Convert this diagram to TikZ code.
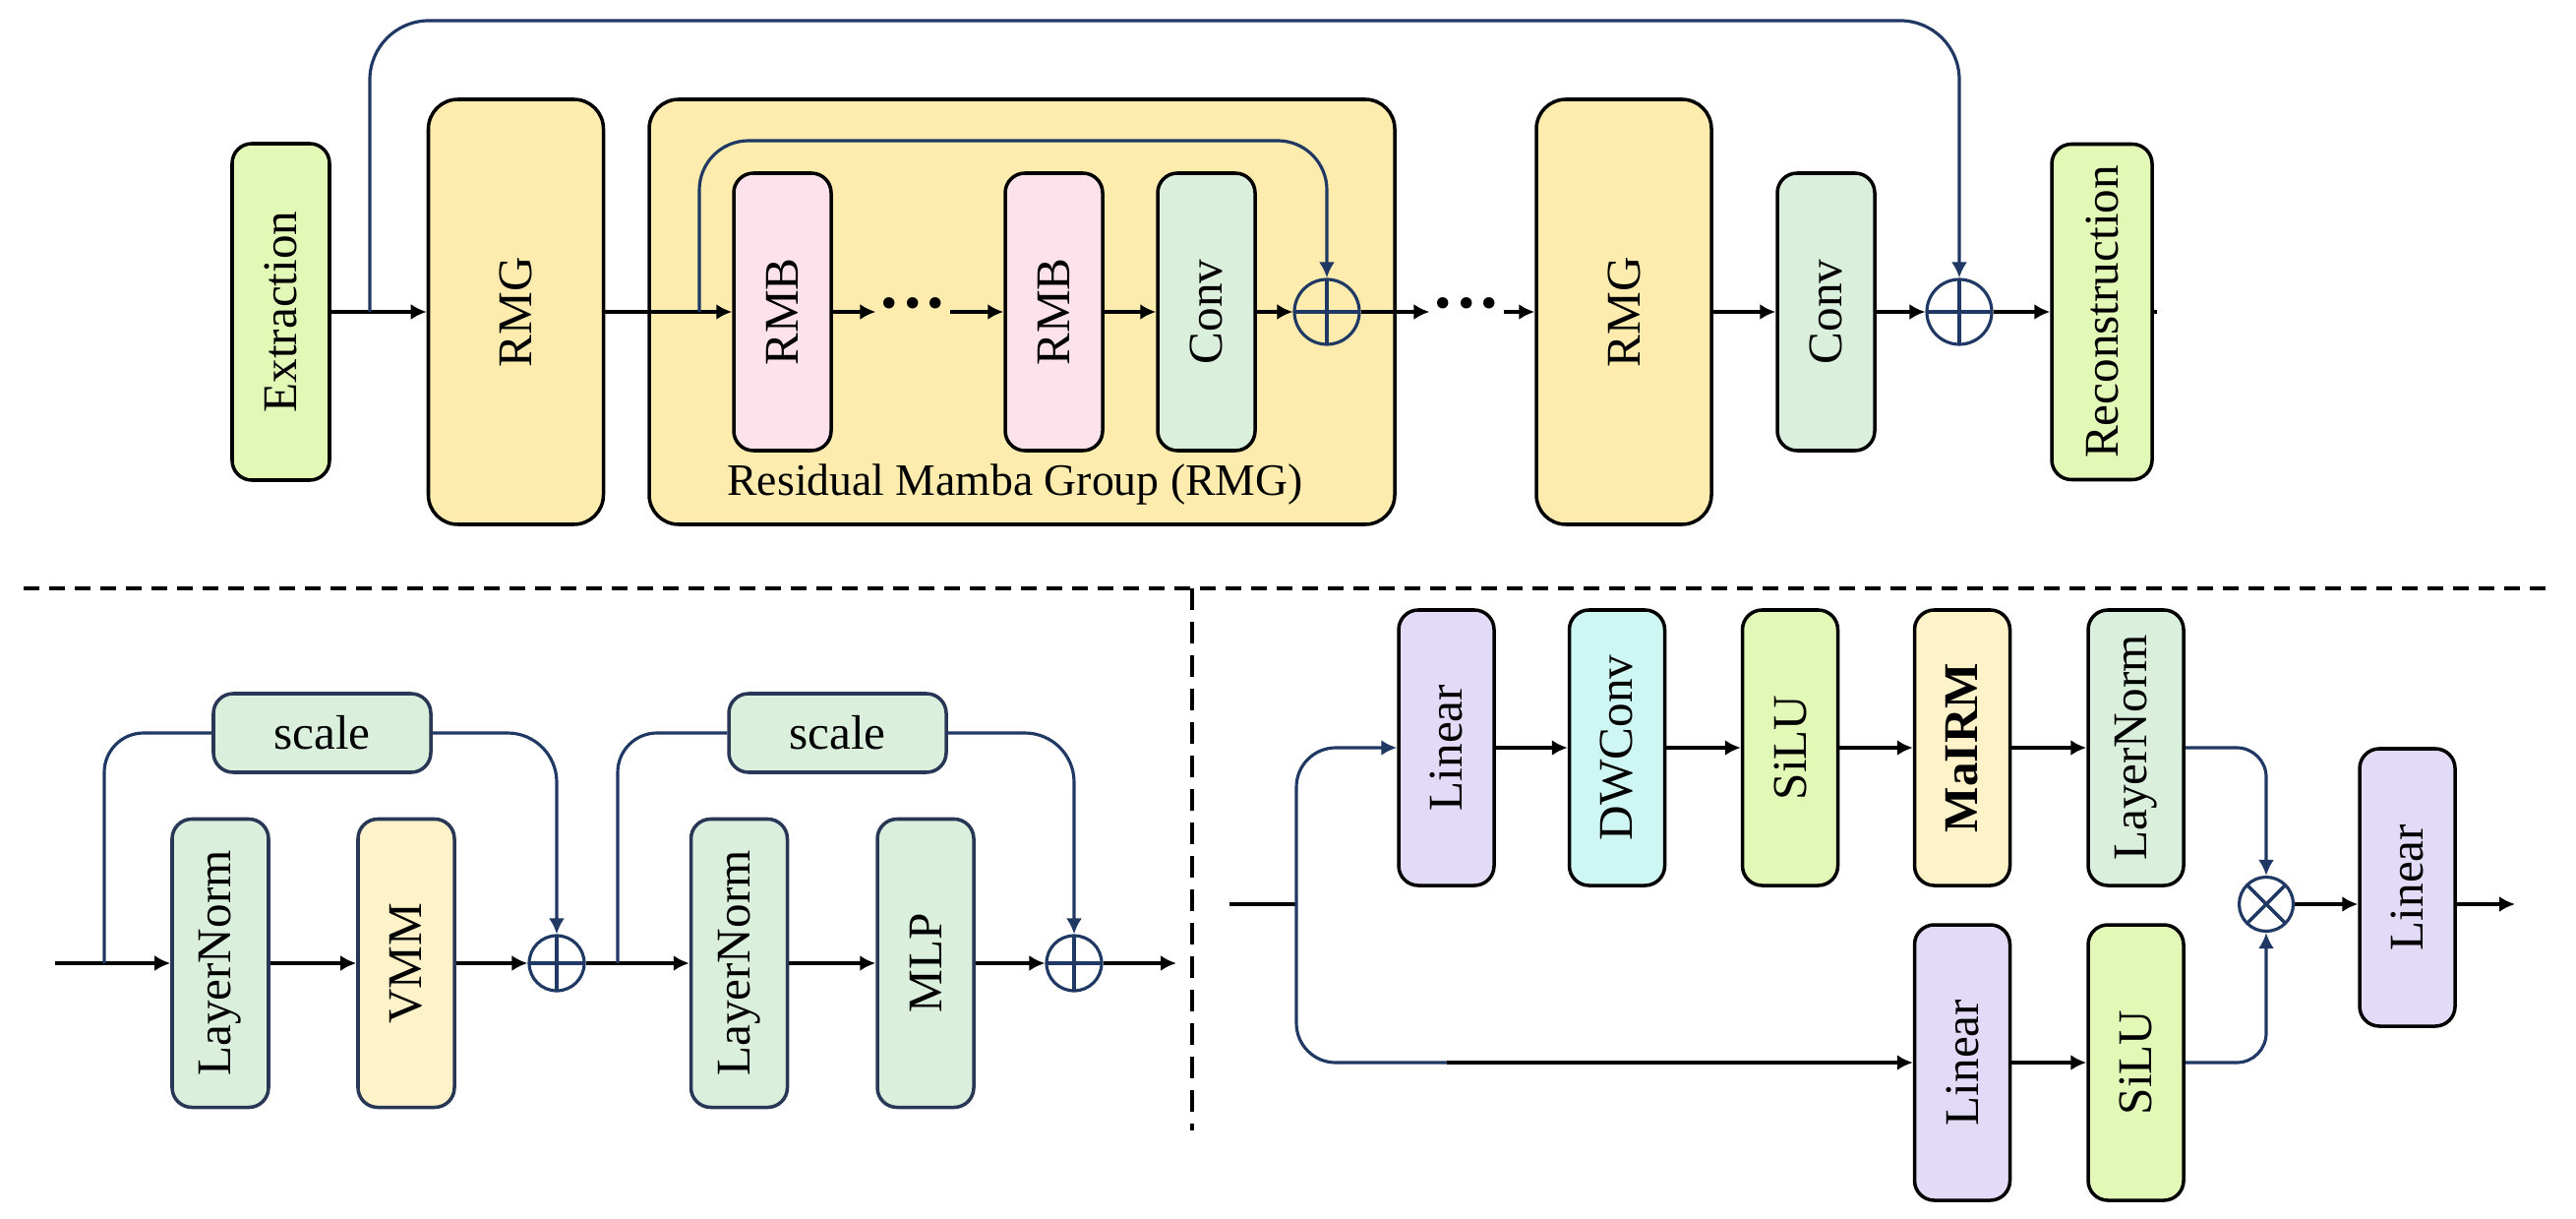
\documentclass[tikz,border=0pt]{standalone}
\usepackage{fontspec}
\setmainfont{Liberation Serif}
\usetikzlibrary{arrows.meta}
\definecolor{extgreen}{RGB}{226,248,183}
\definecolor{rmgyellow}{RGB}{253,236,173}
\definecolor{rmbpink}{RGB}{253,226,236}
\definecolor{convgreen}{RGB}{218,239,220}
\definecolor{vmmyellow}{RGB}{253,242,200}
\definecolor{linpurple}{RGB}{226,218,246}
\definecolor{dwcyan}{RGB}{206,246,242}
\definecolor{skipblue}{RGB}{31,56,100}
\definecolor{navybox}{RGB}{40,55,85}
\newcommand{\rotlabel}[1]{\rotatebox{90}{#1}}
\begin{document}
\begin{tikzpicture}[
	blk/.style={draw, rounded corners=2mm, line width=1pt, inner sep=0pt, font=\fontsize{14}{16}\selectfont},
	slim/.style={minimum width=0.99cm, minimum height=2.82cm},
	wide/.style={minimum width=1.78cm, minimum height=4.32cm, rounded corners=3mm},
	low/.style={minimum width=0.98cm, minimum height=2.93cm, draw=navybox},
	rgt/.style={minimum width=0.97cm, minimum height=2.8cm},
	sclbox/.style={minimum width=2.21cm, minimum height=0.8cm, draw=navybox, fill=convgreen},
	dotbox/.style={inner sep=0.5pt, font=\fontsize{20}{20}\selectfont\bfseries},
	arr/.style={-{Latex[length=1.6mm,width=1.6mm]}, line width=1pt},
	skipline/.style={line width=0.9pt, draw=skipblue},
	skiparr/.style={skipline, -{Latex[length=1.6mm,width=1.6mm]}},
	addop/.style={circle, draw=skipblue, line width=0.9pt, minimum size=#1, inner sep=0pt,
		path picture={\draw[line width=1pt] (path picture bounding box.north) -- (path picture bounding box.south) (path picture bounding box.west) -- (path picture bounding box.east);}},
	mulop/.style={circle, draw=skipblue, line width=0.9pt, minimum size=#1, inner sep=0pt,
		path picture={\draw[line width=1pt] (path picture bounding box.north west) -- (path picture bounding box.south east) (path picture bounding box.south west) -- (path picture bounding box.north east);}},
	divider/.style={line width=1pt, dash pattern=on 1.6mm off 1mm}
]
	\useasboundingbox (0,0) rectangle (26.19,-12.39);

	\node[blk, fill=rmgyellow, rounded corners=3mm, minimum width=7.58cm, minimum height=4.32cm] (grp) at (10.39,-3.17) {};
	\node (grplabel) at (10.32,-4.93) {\fontsize{13}{15}\selectfont Residual Mamba Group (RMG)};
	\node[blk, fill=extgreen, minimum width=0.99cm, minimum height=3.42cm] (ext) at (2.855,-3.17) {\rotlabel{Extraction}};
	\node[blk, wide, fill=rmgyellow] (rmgA) at (5.245,-3.17) {\rotlabel{RMG}};
	\node[blk, slim, fill=rmbpink] (rmbA) at (7.955,-3.17) {\rotlabel{RMB}};
	\node[dotbox] (dotsA) at (9.28,-3.17) {···};
	\node[blk, slim, fill=rmbpink] (rmbB) at (10.715,-3.17) {\rotlabel{RMB}};
	\node[blk, slim, fill=convgreen] (convA) at (12.265,-3.17) {\rotlabel{Conv}};
	\node[addop=0.66cm] (addA) at (13.49,-3.17) {};
	\node[dotbox] (dotsB) at (14.91,-3.17) {···};
	\node[blk, wide, fill=rmgyellow] (rmgB) at (16.51,-3.17) {\rotlabel{RMG}};
	\node[blk, slim, fill=convgreen] (convB) at (18.565,-3.17) {\rotlabel{Conv}};
	\node[addop=0.66cm] (addB) at (19.92,-3.17) {};
	\node[blk, fill=extgreen, minimum width=1.02cm, minimum height=3.41cm] (rec) at (21.37,-3.17) {\rotlabel{Reconstruction}};
	\coordinate (brA) at (3.76,-3.17);
	\coordinate (topA) at (3.76,-0.21);
	\coordinate (brIn) at (7.11,-3.17);
	\coordinate (topIn) at (7.11,-1.43);
	\coordinate (stub) at (21.93,-3.17);

	\draw[arr] (ext) -- (rmgA);
	\draw[arr] (rmgA) -- (rmbA);
	\draw[arr] (rmbA) -- (dotsA);
	\draw[arr] (dotsA) -- (rmbB);
	\draw[arr] (rmbB) -- (convA);
	\draw[arr] (convA) -- (addA);
	\draw[arr] (addA) -- (dotsB);
	\draw[arr] (dotsB) -- (rmgB);
	\draw[arr] (rmgB) -- (convB);
	\draw[arr] (convB) -- (addB);
	\draw[arr] (addB) -- (rec);
	\draw[line width=1pt] (rec.east) -- (stub);
	\draw[skiparr, rounded corners=6mm] (brA) -- (topA) -- (addB |- topA) -- (addB);
	\draw[skiparr, rounded corners=5mm] (brIn) -- (topIn) -- (addA |- topIn) -- (addA);

	\draw[divider] (0.24,-5.98) -- (25.94,-5.98);
	\draw[divider, dash pattern=on 2.2mm off 1.2mm] (12.12,-5.98) -- (12.12,-11.49);

	\node[blk, sclbox] (scaleA) at (3.275,-7.45) {scale};
	\node[blk, low, fill=convgreen] (lnA) at (2.24,-9.79) {\rotlabel{LayerNorm}};
	\node[blk, low, fill=vmmyellow] (vmm) at (4.13,-9.79) {\rotlabel{VMM}};
	\node[addop=0.56cm] (addC) at (5.66,-9.79) {};
	\node[blk, sclbox] (scaleB) at (8.515,-7.45) {scale};
	\node[blk, low, fill=convgreen] (lnB) at (7.515,-9.79) {\rotlabel{LayerNorm}};
	\node[blk, low, fill=convgreen] (mlp) at (9.41,-9.79) {\rotlabel{MLP}};
	\node[addop=0.56cm] (addD) at (10.92,-9.79) {};
	\coordinate (inB) at (0.56,-9.79);
	\coordinate (brB) at (1.06,-9.79);
	\coordinate (brC) at (6.28,-9.79);
	\coordinate (outA) at (11.96,-9.79);

	\draw[arr] (inB) -- (lnA);
	\draw[arr] (lnA) -- (vmm);
	\draw[arr] (vmm) -- (addC);
	\draw[arr] (addC) -- (lnB);
	\draw[arr] (lnB) -- (mlp);
	\draw[arr] (mlp) -- (addD);
	\draw[arr] (addD) -- (outA);
	\draw[skipline, rounded corners=4mm] (brB) |- (scaleA.west);
	\draw[skiparr, rounded corners=5mm] (scaleA.east) -| (addC);
	\draw[skipline, rounded corners=4mm] (brC) |- (scaleB.west);
	\draw[skiparr, rounded corners=5mm] (scaleB.east) -| (addD);

	\node[blk, rgt, fill=linpurple] (linA) at (14.705,-7.60) {\rotlabel{Linear}};
	\node[blk, rgt, fill=dwcyan] (dwconv) at (16.44,-7.60) {\rotlabel{DWConv}};
	\node[blk, rgt, fill=extgreen] (siluA) at (18.2,-7.60) {\rotlabel{SiLU}};
	\node[blk, rgt, fill=vmmyellow] (mairm) at (19.95,-7.60) {\rotlabel{\textbf{MaIRM}}};
	\node[blk, rgt, fill=convgreen] (lnC) at (21.715,-7.60) {\rotlabel{LayerNorm}};
	\node[mulop=0.55cm] (mul) at (23.04,-9.19) {};
	\node[blk, rgt, fill=linpurple] (linB) at (19.95,-10.80) {\rotlabel{Linear}};
	\node[blk, rgt, fill=extgreen] (siluB) at (21.715,-10.80) {\rotlabel{SiLU}};
	\node[blk, rgt, fill=linpurple, minimum height=2.82cm] (linC) at (24.475,-9.02) {\rotlabel{Linear}};
	\coordinate (inC) at (12.5,-9.19);
	\coordinate (brD) at (13.18,-9.19);
	\coordinate (midD) at (14.71,-10.80);
	\coordinate (outB) at (25.57,-9.19);

	\draw[line width=1pt] (inC) -- (brD);
	\draw[skiparr, rounded corners=4mm] (brD) |- (linA.west);
	\draw[skipline, rounded corners=4mm] (brD) |- (midD);
	\draw[arr] (midD) -- (linB);
	\draw[arr] (linA) -- (dwconv);
	\draw[arr] (dwconv) -- (siluA);
	\draw[arr] (siluA) -- (mairm);
	\draw[arr] (mairm) -- (lnC);
	\draw[arr] (linB) -- (siluB);
	\draw[skiparr, rounded corners=3mm] (lnC.east) -| (mul);
	\draw[skiparr, rounded corners=3mm] (siluB.east) -| (mul);
	\draw[arr] (mul) -- (mul -| linC.west);
	\draw[arr] (mul -| linC.east) -- (outB);
\end{tikzpicture}
\end{document}
